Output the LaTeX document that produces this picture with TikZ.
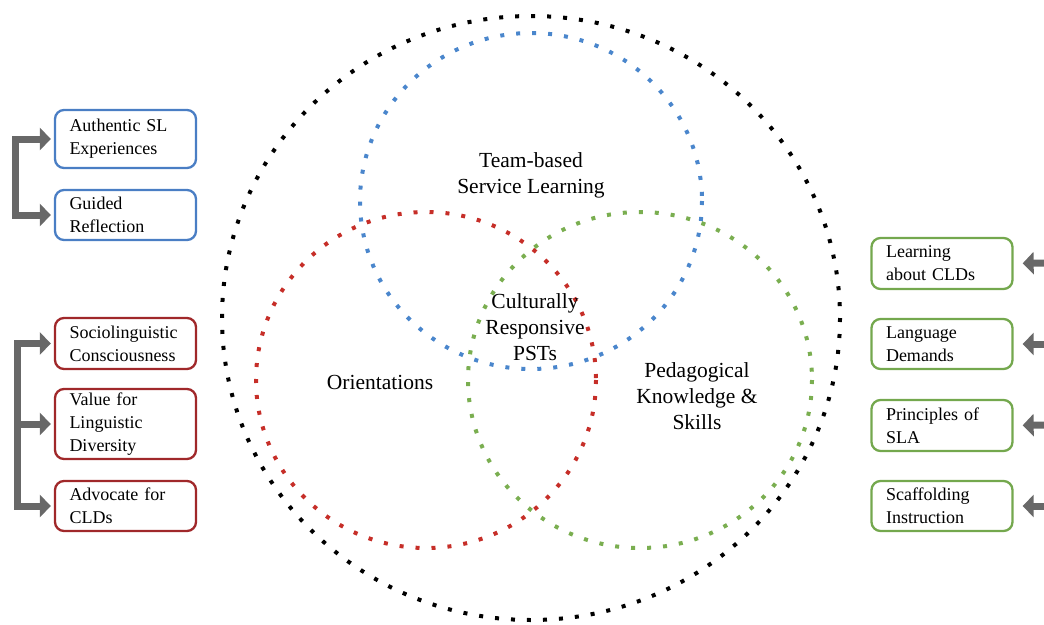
\documentclass[tikz,border=0pt]{standalone}
\usepackage{fontspec}
\setmainfont{Liberation Serif}
\usetikzlibrary{arrows.meta,calc}
\definecolor{bluec}{HTML}{4A7EC4}
\definecolor{redc}{HTML}{A0282A}
\definecolor{greenc}{HTML}{74A84E}
\definecolor{bluedot}{HTML}{4A86CC}
\definecolor{reddot}{HTML}{C62E28}
\definecolor{greendot}{HTML}{7AAE50}
\definecolor{arrgray}{HTML}{686868}
\tikzset{
  dotring/.style={line width=4pt, dash pattern=on 4pt off 12pt},
  itembox/.style={draw, line width=2.3pt, rounded corners=9pt, text width=112pt,
    inner xsep=14.5pt, inner ysep=2pt, align=left,
    font=\fontsize{18}{23}\selectfont},
  bluebox/.style={itembox, draw=bluec},
  redbox/.style={itembox, draw=redc},
  greenbox/.style={itembox, draw=greenc},
  biglabel/.style={align=center, font=\fontsize{21.5}{26}\selectfont},
  grayarrow/.style={draw=arrgray, line width=7pt, line join=miter,
    arrows={-{Triangle[length=11pt,width=22pt,fill=arrgray]}}},
  grayboth/.style={draw=arrgray, line width=7pt, line join=miter,
    arrows={{Triangle[length=11pt,width=22pt,fill=arrgray]}-{Triangle[length=11pt,width=22pt,fill=arrgray]}}},
}
\begin{document}
\begin{tikzpicture}[x=1pt,y=-1pt]
\useasboundingbox (0,0) rectangle (1044,624);
% rings
\draw[dotring, black] (531,318) ellipse [x radius=309, y radius=302];
\draw[dotring, bluedot] (531,201) ellipse [x radius=171, y radius=168];
\draw[dotring, reddot] (426,380) ellipse [x radius=170, y radius=168];
\draw[dotring, greendot] (640,380) ellipse [x radius=172, y radius=168];
% labels
\node[biglabel] (tb) at (531,175) {Team-based\\Service Learning};
\node[biglabel] (or) at (380,382) {Orientations};
\node[biglabel] (pk) at (697,396) {Pedagogical\\Knowledge \&\\Skills};
\node[biglabel] (cr) at (535,327) {Culturally\\Responsive\\PSTs};
% left boxes
\node[bluebox, minimum height=58pt] (b1) at (125.5,139) {Authentic SL\\Experiences};
\node[bluebox, minimum height=50pt] (b2) at (125.5,215) {Guided\\Reflection};
\node[redbox, minimum height=51pt] (r1) at (125.5,343.5) {Sociolinguistic\\Consciousness};
\node[redbox, minimum height=70pt] (r2) at (125.5,424) {Value for\\Linguistic\\Diversity};
\node[redbox, minimum height=50pt] (r3) at (125.5,506) {Advocate for\\CLDs};
% right boxes
\node[greenbox, minimum height=51pt] (g1) at (942,263.5) {Learning\\about CLDs};
\node[greenbox, minimum height=50pt] (g2) at (942,344) {Language\\Demands};
\node[greenbox, minimum height=51pt] (g3) at (942,425.5) {Principles of\\SLA};
\node[greenbox, minimum height=50pt] (g4) at (942,506) {Scaffolding\\Instruction};
% left arrows
\coordinate (bx) at (15,215);
\draw[grayboth, shorten <=3pt, shorten >=3pt] (b1.west) -| (bx) |- (b2.west);
\coordinate (rx) at (17,506);
\draw[grayboth, shorten <=3pt, shorten >=3pt] (r1.west) -| (rx) |- (r3.west);
\draw[grayarrow, shorten >=3pt] (rx |- r2.west) -- (r2.west);
% right arrows
\coordinate (a1) at (1046,263);
\coordinate (a2) at (1046,344);
\coordinate (a3) at (1046,425);
\coordinate (a4) at (1046,506);
\draw[grayarrow, shorten >=9pt] (a1) -- (g1.east);
\draw[grayarrow, shorten >=9pt] (a2) -- (g2.east);
\draw[grayarrow, shorten >=9pt] (a3) -- (g3.east);
\draw[grayarrow, shorten >=9pt] (a4) -- (g4.east);
\end{tikzpicture}
\end{document}
